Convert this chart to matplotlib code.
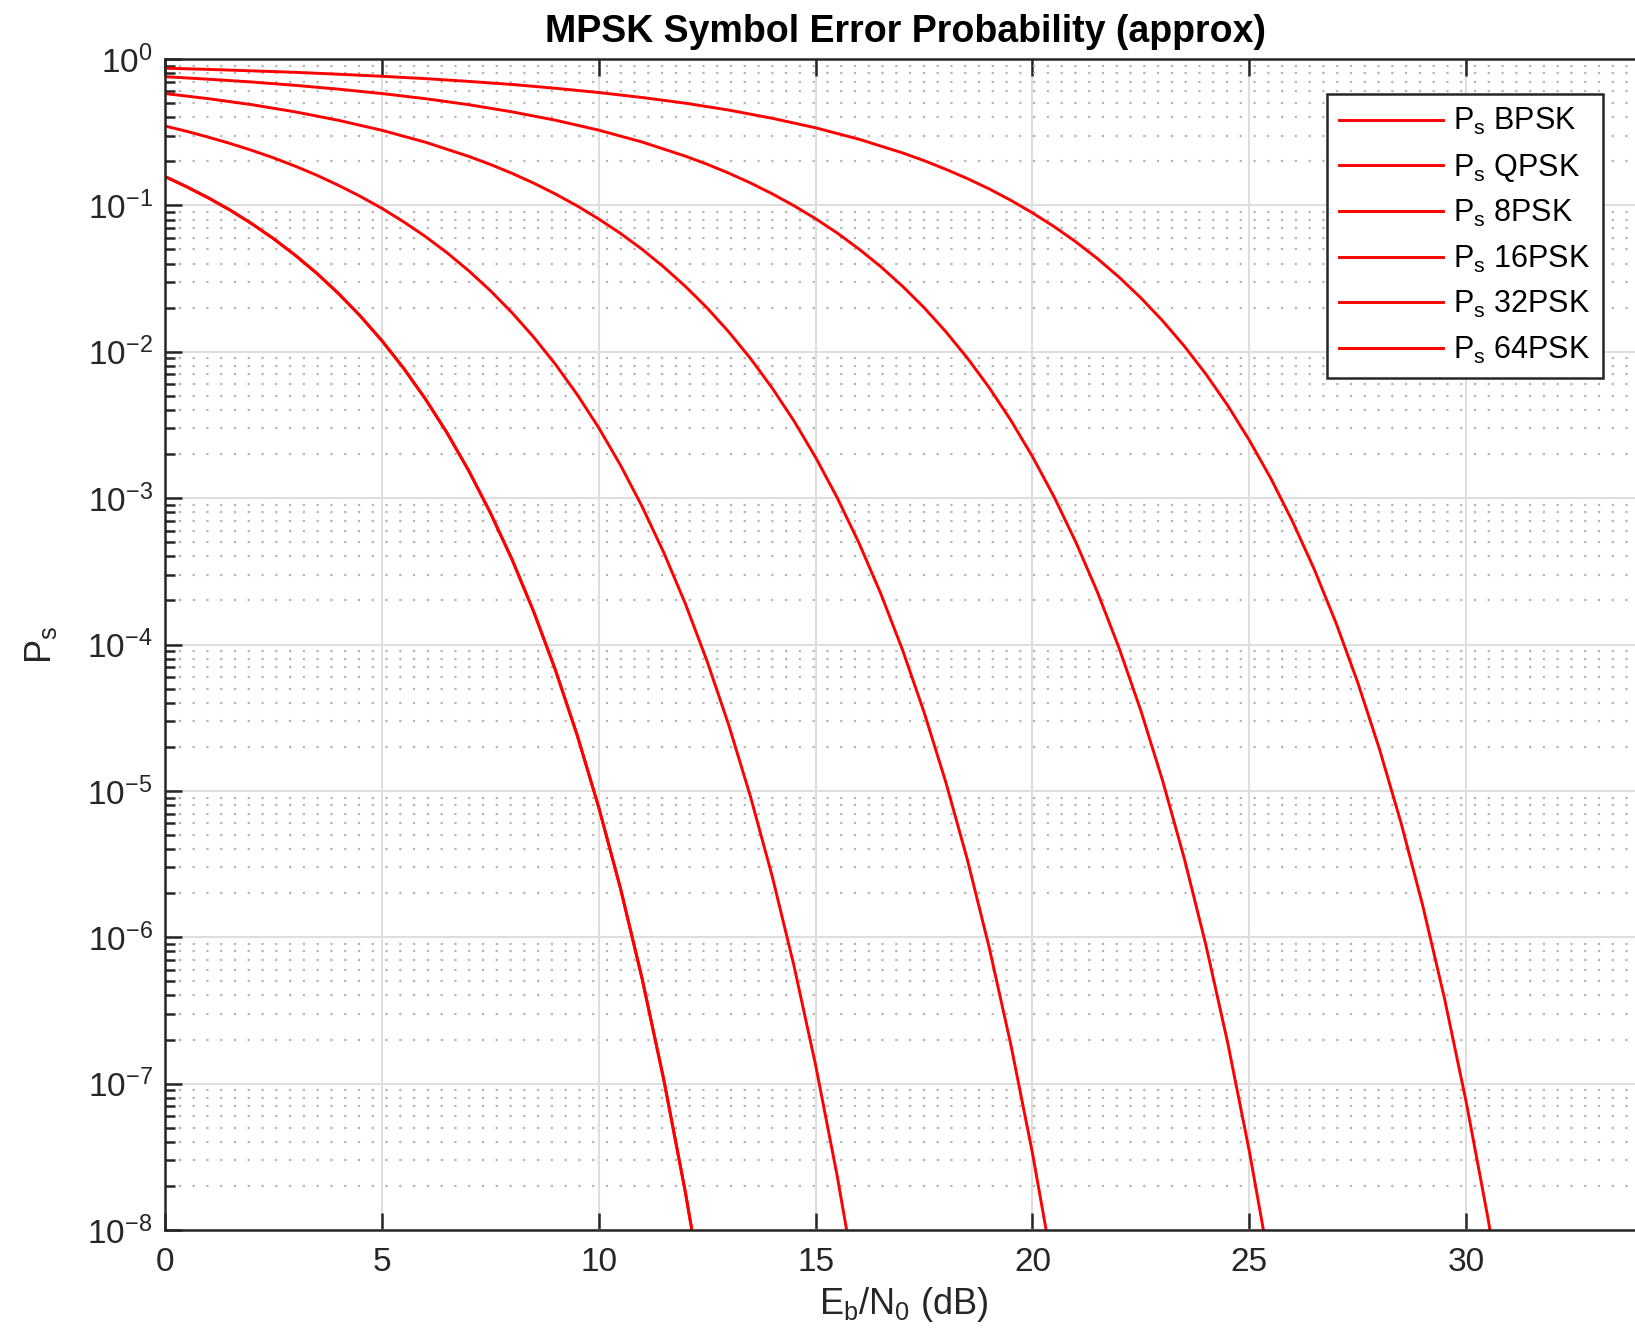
import numpy as np
import matplotlib
matplotlib.use("Agg")
import matplotlib.pyplot as plt
from matplotlib.ticker import LogLocator, NullFormatter, FixedLocator

plt.rcParams['font.family'] = ['Liberation Sans', 'DejaVu Sans']
plt.rcParams['mathtext.fontset'] = 'custom'
plt.rcParams['mathtext.rm'] = 'Liberation Sans'
plt.rcParams['mathtext.it'] = 'Liberation Sans'
plt.rcParams['axes.unicode_minus'] = False

# Eb/N0 (dB) sample points and log10(Ps)
x_bpsk = [0, 0.5, 1, 1.5, 2, 2.5, 3, 3.5, 4, 4.5, 5, 5.5, 6, 6.5, 7, 7.5, 8, 8.5,
          9, 9.5, 10, 10.5, 11, 11.5, 12, 12.5]
log_ps_bpsk = [-0.803, -0.873, -0.949, -1.032, -1.125, -1.227, -1.340, -1.464,
               -1.602, -1.755, -1.924, -2.112, -2.321, -2.553, -2.811, -3.099,
               -3.418, -3.775, -4.173, -4.616, -5.112, -5.664, -6.282, -6.973,
               -7.745, -8.608]
x_qpsk = [0, 0.5, 1, 1.5, 2, 2.5, 3, 3.5, 4, 4.5, 5, 5.5, 6, 6.5, 7, 7.5, 8, 8.5,
          9, 9.5, 10, 10.5, 11, 11.5, 12, 12.5]
log_ps_qpsk = [-0.803, -0.873, -0.949, -1.032, -1.125, -1.227, -1.340, -1.464,
               -1.602, -1.755, -1.924, -2.112, -2.321, -2.553, -2.811, -3.099,
               -3.418, -3.775, -4.173, -4.616, -5.112, -5.664, -6.282, -6.973,
               -7.745, -8.608]
x_8psk = [0, 0.5, 1, 1.5, 2, 2.5, 3, 3.5, 4, 4.5, 5, 5.5, 6, 6.5, 7, 7.5, 8, 8.5,
          9, 9.5, 10, 10.5, 11, 11.5, 12, 12.5, 13, 13.5, 14, 14.5, 15, 15.5, 16]
log_ps_8psk = [-0.458, -0.494, -0.534, -0.577, -0.624, -0.675, -0.732, -0.794,
               -0.863, -0.938, -1.020, -1.112, -1.212, -1.323, -1.446, -1.582,
               -1.733, -1.900, -2.085, -2.291, -2.519, -2.774, -3.057, -3.372,
               -3.723, -4.115, -4.552, -5.040, -5.583, -6.192, -6.872, -7.633,
               -8.483]
x_16psk = [0, 1, 2, 3, 4, 5, 6, 7, 7.5, 8, 8.5, 9, 9.5, 10, 10.5, 11, 11.5, 12,
           12.5, 13, 13.5, 14, 14.5, 15, 15.5, 16, 16.5, 17, 17.5, 18, 18.5, 19,
           19.5, 20, 20.5]
log_ps_16psk = [-0.236, -0.271, -0.312, -0.361, -0.419, -0.487, -0.568, -0.665,
                -0.720, -0.781, -0.848, -0.922, -1.003, -1.093, -1.191, -1.300,
                -1.421, -1.554, -1.701, -1.865, -2.046, -2.248, -2.472, -2.721,
                -2.998, -3.306, -3.650, -4.033, -4.461, -4.938, -5.470, -6.066,
                -6.731, -7.474, -8.306]
x_32psk = [0, 1, 2, 3, 4, 5, 6, 7, 8, 9, 10, 11, 12, 12.5, 13, 13.5, 14, 14.5,
           15, 15.5, 16, 16.5, 17, 17.5, 18, 18.5, 19, 19.5, 20, 20.5, 21, 21.5,
           22, 22.5, 23, 23.5, 24, 24.5, 25, 25.5]
log_ps_32psk = [-0.121, -0.138, -0.157, -0.180, -0.206, -0.236, -0.271, -0.312,
                -0.361, -0.418, -0.486, -0.567, -0.664, -0.719, -0.780, -0.847,
                -0.921, -1.002, -1.091, -1.189, -1.298, -1.418, -1.551, -1.698,
                -1.862, -2.043, -2.244, -2.467, -2.716, -2.992, -3.300, -3.643,
                -4.026, -4.452, -4.929, -5.460, -6.054, -6.718, -7.460, -8.289]
x_64psk = [0, 1, 2, 3, 4, 5, 6, 7, 8, 9, 10, 11, 12, 13, 14, 15, 16, 17, 17.5,
           18, 18.5, 19, 19.5, 20, 20.5, 21, 21.5, 22, 22.5, 23, 23.5, 24, 24.5,
           25, 25.5, 26, 26.5, 27, 27.5, 28, 28.5, 29, 29.5, 30, 30.5, 31]
log_ps_64psk = [-0.063, -0.071, -0.081, -0.091, -0.104, -0.118, -0.134, -0.153,
                -0.174, -0.200, -0.229, -0.263, -0.302, -0.349, -0.405, -0.470,
                -0.548, -0.641, -0.694, -0.753, -0.817, -0.887, -0.965, -1.051,
                -1.145, -1.249, -1.364, -1.491, -1.632, -1.788, -1.961, -2.153,
                -2.366, -2.604, -2.867, -3.161, -3.488, -3.853, -4.259, -4.713,
                -5.220, -5.785, -6.417, -7.124, -7.914, -8.797]

names = ['BPSK', 'QPSK', '8PSK', '16PSK', '32PSK', '64PSK']
xs = [x_bpsk, x_qpsk, x_8psk, x_16psk, x_32psk, x_64psk]
ys = [log_ps_bpsk, log_ps_qpsk, log_ps_8psk, log_ps_16psk, log_ps_32psk, log_ps_64psk]
x_ticks = [0, 5, 10, 15, 20, 25, 30]
y_decades = [-8, -7, -6, -5, -4, -3, -2, -1, 0]

W, H = 1635, 1337
fig = plt.figure(figsize=(W / 100, H / 100), dpi=100)
# axes run to 35 dB, past the right edge of the picture
ax = fig.add_axes([165 / W, 1 - 1230 / H, (1683 - 165) / W, (1230 - 59) / H])

for name, x, y in zip(names, xs, ys):
    ax.semilogy(x, 10.0 ** np.array(y), color='#ff0000', lw=2.1,
                label=r'$\mathregular{P_s}$ ' + name)

ax.set_xlim(0, 35)
ax.set_ylim(1e-8, 1)
ax.xaxis.set_major_locator(FixedLocator(x_ticks))
ax.set_yticks([10.0 ** d for d in y_decades],
              [r'$\mathregular{10^{%d}}$' % d for d in y_decades])
ax.yaxis.set_minor_locator(LogLocator(base=10, subs=np.arange(2, 10), numticks=20))
ax.yaxis.set_minor_formatter(NullFormatter())

ax.grid(True, which='major', axis='both', color='#dedede', lw=1.5)
ax.grid(True, which='minor', axis='y', color='#b4b4b4', lw=1.6, ls=(0, (1, 5.2)))
ax.set_axisbelow(True)

ax.tick_params(which='both', direction='in', top=True, right=True,
               colors='#262626', labelsize=24, width=1.8)
ax.tick_params(which='major', length=12)
ax.tick_params(which='minor', length=7)
ax.tick_params(axis='x', pad=12)
ax.tick_params(axis='y', pad=9)
for s in ax.spines.values():
    s.set_linewidth(1.8)
    s.set_color('#262626')

ax.set_title('MPSK Symbol Error Probability (approx)', fontsize=27,
             fontweight='bold', pad=12, x=(905 - 165) / (1683 - 165))
ax.set_xlabel(r'$\mathregular{E_b/N_0}$ (dB)', fontsize=26, color='#262626')
ax.xaxis.set_label_coords((904 - 165) / (1683 - 165), -0.047)
ax.set_ylabel(r'$\mathregular{P_s}$', fontsize=26, color='#262626')
ax.yaxis.set_label_coords(-0.07, 0.5)

leg = ax.legend(loc='upper left', bbox_to_anchor=(1327 / W, 1 - 94 / H),
                bbox_transform=fig.transFigure, fontsize=22, frameon=True,
                fancybox=False, framealpha=1, edgecolor='#262626',
                handlelength=3.4, handletextpad=0.33, labelspacing=0.47,
                borderpad=0.4, borderaxespad=0)
leg.get_frame().set_linewidth(1.8)

fig.savefig('out.png', dpi=100)
